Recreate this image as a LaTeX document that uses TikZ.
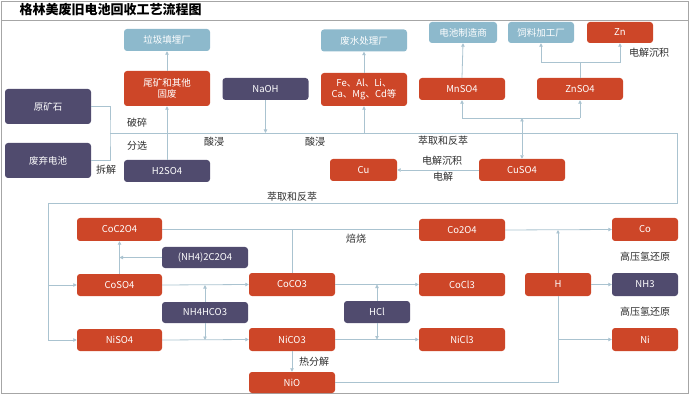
\documentclass[tikz,border=0pt]{standalone}
\usepackage{fontspec}
\setmainfont{Noto Sans CJK SC}
\usetikzlibrary{arrows.meta}
\definecolor{boxred}{RGB}{205,70,40}
\definecolor{boxpurple}{RGB}{80,75,110}
\definecolor{boxblue}{RGB}{141,185,204}
\definecolor{flowline}{RGB}{170,195,208}
\definecolor{labelgray}{RGB}{45,45,45}
\begin{document}
\begin{tikzpicture}[x=1pt,y=-1pt,
    box/.style={rounded corners=3pt,text=white,align=center,inner sep=1pt,
      minimum width=86pt,minimum height=22pt,font=\fontsize{9.5}{11}\selectfont},
    redbox/.style={box,fill=boxred},
    purplebox/.style={box,fill=boxpurple},
    bluebox/.style={box,fill=boxblue},
    lbl/.style={text=labelgray,font=\fontsize{10}{12}\selectfont},
    flow/.style={draw=flowline,line width=0.8pt},
    tip/.style={flow,-{Triangle[length=3.5pt,width=3.5pt]}}]
  \useasboundingbox (0,0) rectangle (690,395);
  % FRAME
  \draw[gray!70,line width=0.8pt] (1,1) rectangle (688,393);
  \draw[gray!70,line width=0.8pt] (1,20) -- (688,20);
  \node[font=\fontsize{13}{15}\selectfont\bfseries,anchor=west] (title) at (16,10) {格林美废旧电池回收工艺流程图};

  % UPPER PART
  \node[bluebox] (landfill) at (167,40) {垃圾填埋厂};
  \node[redbox,minimum height=35pt] (tailings) at (167,88.5) {尾矿和其他\\固废};
  \node[purplebox,minimum height=35pt] (ore) at (48,106.5) {原矿石};
  \node[purplebox,minimum height=35pt] (battery) at (48,160.5) {废弃电池};
  \node[purplebox] (hsfour) at (167,171) {H2SO4};
  \node[purplebox] (naoh) at (265.5,89) {NaOH};
  \node[bluebox] (wastewater) at (364,40.5) {废水处理厂};
  \node[redbox,minimum height=33pt] (impurity) at (364,89.5) {Fe、Al、Li、\\Ca、Mg、Cd等};
  \node[bluebox,minimum width=68pt,minimum height=21pt] (maker) at (463,32.5) {电池制造商};
  \node[bluebox,minimum width=66pt,minimum height=21pt] (feed) at (541,32.5) {饲料加工厂};
  \node[redbox,minimum width=66pt,minimum height=21pt] (zn) at (620,32.5) {Zn};
  \node[redbox] (mnso) at (462,89) {MnSO4};
  \node[redbox] (znso) at (580,89) {ZnSO4};
  \node[redbox] (cuso) at (522,170) {CuSO4};
  \node[redbox,minimum width=67pt] (cu) at (363.5,170) {Cu};

  % LOWER PART
  \node[redbox,minimum width=85pt,minimum height=23pt] (coox) at (119.5,229.5) {CoC2O4};
  \node[purplebox,minimum height=21pt] (oxalate) at (205,257.5) {(NH4)2C2O4};
  \node[redbox,minimum width=85pt] (coso) at (119.5,285) {CoSO4};
  \node[purplebox,minimum height=21pt] (bicarb) at (205,312.5) {NH4HCO3};
  \node[redbox,minimum width=85pt] (niso) at (119.5,340) {NiSO4};
  \node[redbox,minimum height=23pt] (cocarb) at (292,284.5) {CoCO3};
  \node[redbox,minimum height=23pt] (nicarb) at (292,339.5) {NiCO3};
  \node[redbox,minimum height=21pt] (nio) at (292,382.5) {NiO};
  \node[purplebox,minimum width=66pt] (hcl) at (377,312) {HCl};
  \node[redbox] (cotwo) at (462,230) {Co2O4};
  \node[redbox,minimum height=23pt] (cocl) at (462,284.5) {CoCl3};
  \node[redbox,minimum height=23pt] (nicl) at (462,339.5) {NiCl3};
  \node[redbox,minimum width=66pt,minimum height=23pt] (hyd) at (558,284.5) {H};
  \node[redbox,minimum width=66pt,minimum height=23pt] (co) at (645,229.5) {Co};
  \node[purplebox,minimum width=66pt,minimum height=23pt] (nh) at (645,284.5) {NH3};
  \node[redbox,minimum width=66pt,minimum height=23pt] (ni) at (645,339.5) {Ni};

  % LABELS
  \node[lbl] (crush) at (137,123) {破碎};
  \node[lbl] (sort) at (137,146) {分选};
  \node[lbl] (dismantle) at (106,170) {拆解};
  \node[lbl] (leachA) at (214,142) {酸浸};
  \node[lbl] (leachB) at (315,142) {酸浸};
  \node[lbl] (extractA) at (443,141) {萃取和反萃};
  \node[lbl] (electrodepA) at (442,161) {电解沉积};
  \node[lbl] (electrolysis) at (443,177) {电解};
  \node[lbl] (electrodepB) at (649,53) {电解沉积};
  \node[lbl] (extractB) at (292,197) {萃取和反萃};
  \node[lbl] (roast) at (356,239) {焙烧};
  \node[lbl] (pyrolysis) at (314,362) {热分解};
  \node[lbl] (reduceA) at (645,257) {高压氢还原};
  \node[lbl] (reduceB) at (645,312) {高压氢还原};

  % MAIN LINE
  \coordinate (split) at (110,133);
  \coordinate (ne) at (677,133);
  \coordinate (se) at (677,203);
  \coordinate (sw) at (48,203);
  \draw[flow] (ore.east) -| (split) |- (battery.east);
  \draw[flow] (split) -- (ne) -- (se) -- (sw);
  \draw[tip] (sw) |- (niso.west);
  \draw[tip] (sw |- coso) -- (coso.west);

  % ARROWS UP
  \draw[tip] (hsfour.north) -- (tailings.south);
  \draw[tip] (tailings.north) -- (landfill.south);
  \draw[tip] (naoh.south) -- (naoh.south |- split);
  \draw[tip] (impurity.south |- split) -- (impurity.south);
  \draw[tip] (impurity.north) -- (wastewater.south);

  % CUSO4 BRANCH
  \coordinate (fork) at (522,118);
  \coordinate (zfork) at (580,62);
  \draw[tip,{Triangle[length=3.5pt,width=3.5pt]}-{Triangle[length=3.5pt,width=3.5pt]}] (fork) -- (cuso.north);
  \draw[flow] (mnso.south |- fork) -- (znso.south |- fork);
  \draw[tip] (mnso.south |- fork) -- (mnso.south);
  \draw[tip] (znso.south |- fork) -- (znso.south);
  \draw[tip] (mnso.north) -- (maker.south);
  \draw[flow] (znso.north) -- (zfork);
  \draw[tip] (zfork) -| (feed.south);
  \draw[tip] (zfork) -| (zn.south);
  \draw[tip] (cuso.west) -- (cu.east);

  % COBALT AND NICKEL
  \draw[tip] (coso.north) -- (coox.south);
  \draw[tip] (oxalate.west) -- (coox |- oxalate);
  \draw[tip] (coso.east) -- (cocarb.west);
  \draw[tip] (niso.east) -- (nicarb.west);
  \draw[tip] (bicarb.north) -- (bicarb |- coso);
  \draw[tip] (bicarb.south) -- (bicarb |- niso);
  \draw[flow] (coox.east) -- (cotwo.west |- coox);
  \draw[flow] (cocarb.north) -- (cocarb |- coox);
  \draw[tip] (cocarb.east) -- (cocl.west);
  \draw[tip] (nicarb.east) -- (nicl.west);
  \draw[tip] (hcl.north) -- (hcl |- cocarb);
  \draw[tip] (hcl.south) -- (hcl |- nicarb);
  \draw[tip] (nicarb.south) -- (nio.north);

  % REDUCTION
  \draw[flow] (nio.east) -| (hyd.south);
  \draw[tip] (hyd.north) -- (hyd |- cotwo);
  \draw[tip] (cotwo.east) -- (co.west);
  \draw[tip] (hyd.east) -- (nh.west);
  \draw[tip] (hyd |- ni) -- (ni.west);
\end{tikzpicture}
\end{document}
